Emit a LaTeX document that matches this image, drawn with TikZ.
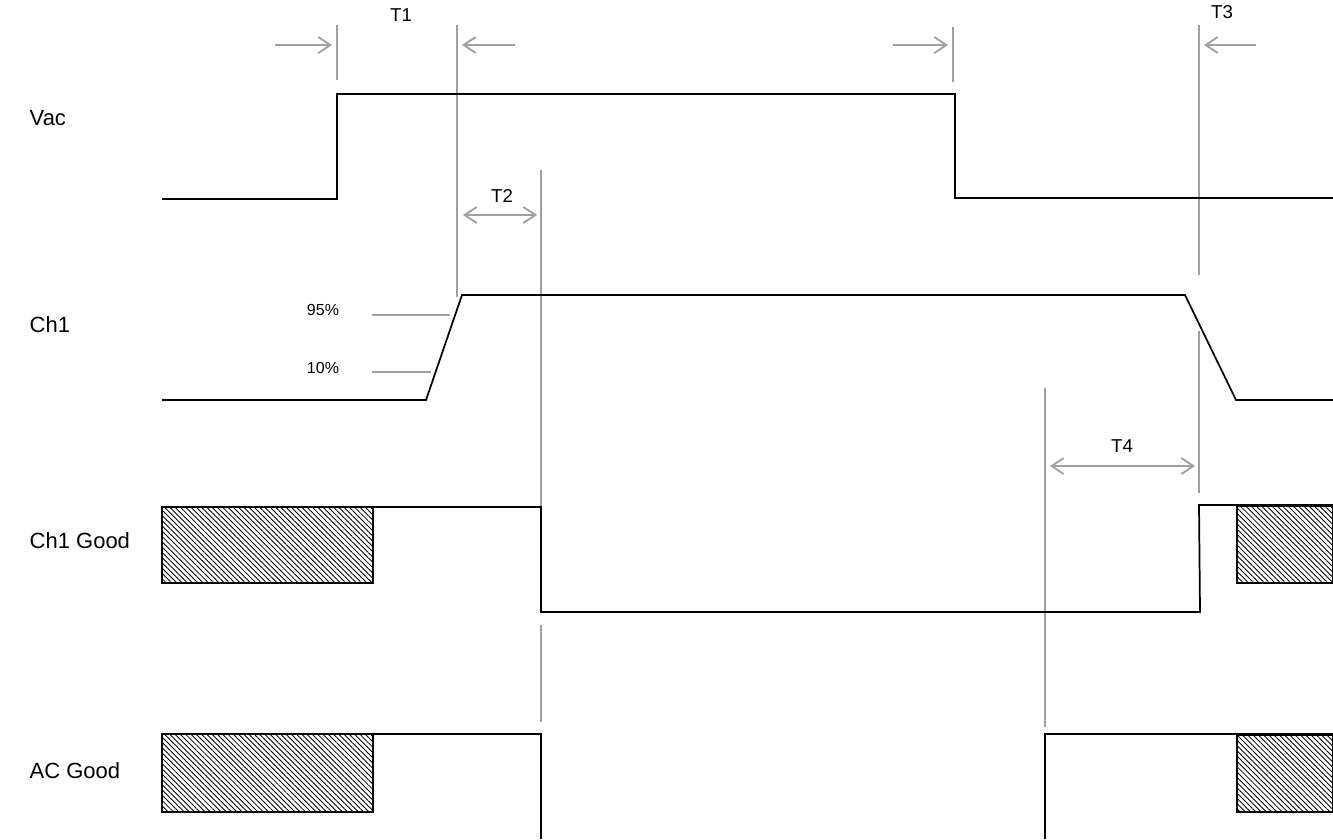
\documentclass[tikz,border=0pt]{standalone}
\usepackage{fontspec}
\setmainfont{Liberation Sans}
\usetikzlibrary{arrows.meta}
\usetikzlibrary{patterns.meta}
\usetikzlibrary{positioning}
\tikzset{>={Straight Barb[length=9pt,width=12pt]}}
\tikzset{sig/.style={line width=1.3pt,draw=black},
  guide/.style={line width=1.4pt,draw={rgb,255:red,160;green,160;blue,160}},
  hatchbox/.style={sig,pattern={Lines[angle=-45,distance=2.8pt,line width=0.65pt]}},
  siglabel/.style={anchor=west,font=\fontsize{16.5}{20}\selectfont},
  timelabel/.style={font=\fontsize{14}{16}\selectfont},
  pctlabel/.style={font=\fontsize{12}{14}\selectfont}}

\begin{document}
\begin{tikzpicture}[x=0.75pt,y=0.75pt,yscale=-1,xscale=1]
\useasboundingbox (0,0) rectangle (1333,839);

%Signal names
\node[siglabel] (vac) at (25,118) {Vac};
\node[siglabel] (chone) at (25,325) {Ch1};
\node[siglabel] (chgood) at (25,541) {Ch1 Good};
\node[siglabel] (acgood) at (25,771) {AC Good};

%Guide lines
\draw[guide] (337,25) -- (337,80);
\draw[guide] (457,25) -- (457,297);
\draw[guide] (953,27) -- (953,82);
\draw[guide] (1199,25) -- (1199,275);
\draw[guide] (1199,331) -- (1199,493);
\draw[guide] (541,170) -- (541,525);
\draw[guide] (541,625) -- (541,722);
\draw[guide] (1045,388) -- (1045,727);
%95% and 10% levels
\draw[guide] (372,315) -- (450,315);
\draw[guide] (372,372) -- (431,372);
\node[pctlabel] (nfive) at (323,310) {95\%};
\node[pctlabel] (ten) at (323,368) {10\%};

%Vac
\draw[sig] (162,199) -- (337,199) -- (337,94) -- (955,94) -- (955,198) -- (1333,198);
%Ch1
\draw[sig] (162,400) -- (426,400) -- (462,295) -- (1185,295) -- (1236,400) -- (1333,400);
%Ch1 Good
\draw[hatchbox] (162,507) rectangle (373,583);
\draw[sig] (162,507) -- (541,507) -- (541,612) -- (1200,612) -- (1199,505) -- (1333,505);
\draw[hatchbox] (1237,506) rectangle (1333,583);
%AC Good
\draw[hatchbox] (162,734) rectangle (373,812);
\draw[sig] (162,734) -- (541,734) -- (541,839);
\draw[sig] (1045,839) -- (1045,734) -- (1333,734);
\draw[hatchbox] (1237,735) rectangle (1333,812);

%T1
\draw[guide,->] (275,45) -- (332,45);
\draw[guide,->] (515,45) -- (462,45);
\node[timelabel] (tone) at (401,15) {T1};
%T3
\draw[guide,->] (893,45) -- (948,45);
\draw[guide,->] (1256,45) -- (1204,45);
\node[timelabel] (tthree) at (1222,12) {T3};
%T2
\draw[guide,<->] (463,215) -- (537,215);
\node[timelabel] (ttwo) at (502,196) {T2};
%T4
\draw[guide,<->] (1050,466) -- (1195,466);
\node[timelabel] (tfour) at (1122,446) {T4};
\end{tikzpicture}
\end{document}
